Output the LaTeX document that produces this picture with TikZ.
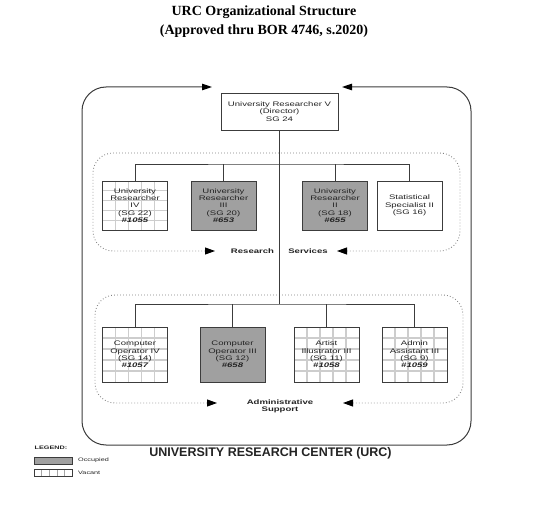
\documentclass[tikz,border=0pt]{standalone}
\usepackage{fontspec}
\setmainfont{Liberation Sans}
\newfontfamily\boxfont[FakeStretch=1.45]{Liberation Sans}
\newfontfamily\titlefont{Liberation Serif}
\usetikzlibrary{arrows.meta,calc}
\definecolor{occ}{RGB}{160,160,160}
\definecolor{bord}{RGB}{60,60,60}
\definecolor{gridc}{RGB}{205,205,205}
\definecolor{txt}{RGB}{35,35,35}
\tikzset{
  posbox/.style={draw=bord, line width=0.9pt, minimum width=65pt, align=center, inner sep=1pt,
    text=txt, font=\boxfont\fontsize{6.6}{7.4}\selectfont},
  occupied/.style={posbox, fill=occ},
  openpos/.style={posbox, fill=white},
  vacant/.style={posbox, fill=white, path picture={
    \foreach \i in {0.2,0.4,0.6,0.8}{
      \draw[gridc, line width=1.2pt] ($(path picture bounding box.south west)!\i!(path picture bounding box.south east)$) -- ($(path picture bounding box.north west)!\i!(path picture bounding box.north east)$);
      \draw[gridc, line width=1.2pt] ($(path picture bounding box.south west)!\i!(path picture bounding box.north west)$) -- ($(path picture bounding box.south east)!\i!(path picture bounding box.north east)$);
    }}},
  conn/.style={draw=bord, line width=0.8pt},
  frame/.style={draw=bord, line width=1pt, rounded corners=24pt,
    {Triangle[length=10pt,width=6.5pt,color=black]}-{Triangle[length=10pt,width=6.5pt,color=black]}},
  dots/.style={draw=gray, line width=0.9pt, dash pattern=on 0.8pt off 2.2pt, rounded corners=20pt,
    {Triangle[length=10pt,width=7pt,color=black]}-{Triangle[length=10pt,width=7pt,color=black]}},
  grplabel/.style={font=\boxfont\bfseries\fontsize{6.6}{7.4}\selectfont, text=txt, align=center, inner sep=1pt},
}
\begin{document}
\begin{tikzpicture}[x=1pt,y=-1pt]
\useasboundingbox (0,0) rectangle (547,511);
% title
\node[font=\titlefont\bfseries\fontsize{14}{19}\selectfont, align=center] (title) at (264,22)
  {URC Organizational Structure\\(Approved thru BOR 4746, s.2020)};
% outer frame
\coordinate (fa) at (212,87);
\coordinate (fb) at (342,87);
\draw[frame] (fa) -- (82,87) -- (82,445) -- (471,445) -- (471,87) -- (fb);
% director
\node[openpos, minimum width=117pt, minimum height=37pt] (dir) at (279.5,111.5)
  {University Researcher V\\(Director)\\SG 24};
% research services group
\coordinate (ra) at (215,251);
\coordinate (rb) at (337,251);
\draw[dots] (ra) -- (93,251) -- (93,153) -- (460,153) -- (460,251) -- (rb);
\node[grplabel] (rl1) at (252.5,251) {Research};
\node[grplabel] (rl2) at (308,251) {Services};
% admin group
\coordinate (aa) at (217,403);
\coordinate (ab) at (343,403);
\draw[dots] (aa) -- (95,403) -- (95,295) -- (463,295) -- (463,403) -- (ab);
\node[grplabel] (al) at (280,406) {Administrative\\Support};
% research boxes
\node[vacant, minimum height=49pt] (ur4) at (135,205.5) {University\\Researcher\\IV\\(SG 22)\\\textbf{\textit{\#1055}}};
\node[occupied, minimum height=49pt] (ur3) at (223.5,205.5) {University\\Researcher\\III\\(SG 20)\\\textbf{\textit{\#653}}};
\node[occupied, minimum height=49pt] (ur2) at (335,205.5) {University\\Researcher\\II\\(SG 18)\\\textbf{\textit{\#655}}};
\node[openpos, minimum height=49pt] (ss2) at (409.5,205.5) {Statistical\\Specialist II\\(SG 16)};
% admin boxes
\node[vacant, minimum height=55pt] (co4) at (135,354.5) {Computer\\Operator IV\\(SG 14)\\\textbf{\textit{\#1057}}};
\node[occupied, minimum height=55pt] (co3) at (232.5,354.5) {Computer\\Operator III\\(SG 12)\\\textbf{\textit{\#658}}};
\node[vacant, minimum height=55pt] (ai3) at (326.5,354.5) {Artist\\Illustrator III\\(SG 11)\\\textbf{\textit{\#1058}}};
\node[vacant, minimum height=55pt] (aa3) at (414.5,354.5) {Admin\\Assistant III\\(SG 9)\\\textbf{\textit{\#1059}}};
% connectors
\coordinate (rbar) at (279.5,164);
\coordinate (abar) at (279.5,304);
\draw[conn] (dir.south) -- (abar);
\draw[conn] (ur4.north) |- (rbar) -| (ss2.north);
\draw[conn] (ur3.north) -- (ur3.north |- rbar);
\draw[conn] (ur2.north) -- (ur2.north |- rbar);
\draw[conn] (co4.north) |- (abar) -| (aa3.north);
\draw[conn] (co3.north) -- (co3.north |- abar);
\draw[conn] (ai3.north) -- (ai3.north |- abar);
% bottom label
\node[font=\bfseries\fontsize{12.5}{14}\selectfont, text=txt] (urc) at (270.5,453.5) {UNIVERSITY RESEARCH CENTER (URC)};
% legend
\node[font=\boxfont\bfseries\fontsize{5}{6}\selectfont, text=txt] (leg) at (51,448) {LEGEND:};
\node[draw=bord, line width=0.7pt, fill=occ, minimum width=38pt, minimum height=7pt, inner sep=0pt] (lo) at (53,460.5) {};
\node[draw=bord, line width=0.7pt, fill=white, minimum width=38pt, minimum height=7pt, inner sep=0pt,
  path picture={\foreach \i in {0.2,0.4,0.6,0.8}{\draw[gray!70, line width=0.6pt] ($(path picture bounding box.south west)!\i!(path picture bounding box.south east)$) -- ($(path picture bounding box.north west)!\i!(path picture bounding box.north east)$);}}] (lv) at (53,472.5) {};
\node[font=\boxfont\fontsize{5}{6}\selectfont, text=txt, anchor=west, inner sep=0pt] (lot) at (78,460.5) {Occupied};
\node[font=\boxfont\fontsize{5}{6}\selectfont, text=txt, anchor=west, inner sep=0pt] (lvt) at (78,472.5) {Vacant};
\end{tikzpicture}
\end{document}
